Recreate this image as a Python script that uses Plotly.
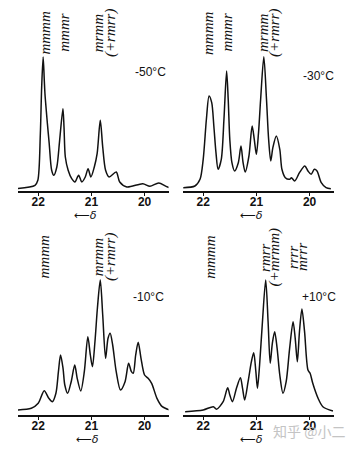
import plotly.graph_objects as go

W, H = 353, 451

# ---------------- data ----------------
tick_vals = [22, 21, 20]
tick_text = ["22", "21", "20"]

delta_m50 = [22.43, 22.06, 22.007, 21.96, 21.935, 21.907, 21.885, 21.873, 21.827, 21.793, 21.747, 21.707,
             21.65, 21.597, 21.535, 21.515, 21.49, 21.437, 21.37, 21.31, 21.24, 21.18, 21.115,
             21.062, 21.01, 20.945, 20.892, 20.833, 20.787, 20.733, 20.667, 20.533, 20.467,
             20.333, 20.033, 19.90, 19.733, 19.567, 19.30]
int_m50 = [2.3, 5.7, 10.7, 57.3, 104, 134, 110, 97.3, 67.3, 47.3, 20.7, 15.7,
           24, 50.7, 82.3, 64, 34, 20.7, 12.3, 9, 15.7, 9, 14,
           22.3, 14, 24, 37.3, 70.7, 44, 20.7, 14, 19, 9,
           4, 7.3, 4.7, 8, 4, 1.3]

delta_m30 = [22.375, 22.156, 22.06, 22.0, 21.94, 21.89, 21.84, 21.80, 21.76, 21.72, 21.66, 21.61,
             21.56, 21.53, 21.50, 21.46, 21.41, 21.34, 21.29, 21.25, 21.21, 21.14, 21.08, 21.04,
             21.0, 20.96, 20.92, 20.86, 20.81, 20.77, 20.73, 20.69, 20.625, 20.56, 20.52, 20.456,
             20.375, 20.34, 20.28, 20.19, 20.09, 20.03, 19.97, 19.91, 19.86, 19.78, 19.69, 19.6]
int_m30 = [3.3, 5, 11.7, 31.7, 71.7, 95, 88.3, 65, 38.3, 21.7, 31.7, 71.7,
           120, 91.7, 51.7, 28.3, 20, 28.3, 45, 28.3, 19, 35, 65, 51.7,
           36.7, 58.3, 91.7, 134.3, 91.7, 51.7, 30, 43.3, 55, 41.7, 21.7, 13.3,
           11.7, 13.3, 10, 18.3, 25, 20, 16.7, 21.7, 20, 8.3, 3.3, 2.3]

delta_m10 = [22.43, 22.13, 22.0, 21.887, 21.80, 21.733, 21.667, 21.62, 21.58, 21.533, 21.5, 21.447,
             21.38, 21.313, 21.267, 21.2, 21.133, 21.067, 21.02, 20.98, 20.933, 20.887, 20.833,
             20.787, 20.733, 20.687, 20.647, 20.6, 20.533, 20.453, 20.367, 20.30, 20.247, 20.213,
             20.167, 20.12, 20.067, 20.0, 19.933, 19.867, 19.767, 19.667, 19.467]
int_m10 = [5, 6.7, 11.7, 24.3, 16.7, 13.3, 21.7, 43.3, 60, 46.7, 30, 21.7,
           33.3, 50, 36.7, 24, 43.3, 78.3, 60, 48.3, 73.3, 106.7, 135,
           100, 56.7, 76.7, 81.7, 70, 43.3, 25, 33.3, 51.7, 43.3, 41.7,
           60, 72.7, 56.7, 40, 36.7, 31.7, 16.7, 8.3, 4]

delta_p10 = [22.34, 22.0, 21.81, 21.75, 21.625, 21.54, 21.5, 21.45, 21.375, 21.30, 21.26, 21.22,
             21.156, 21.094, 21.05, 21.01, 20.98, 20.94, 20.89, 20.825, 20.78, 20.74, 20.70,
             20.656, 20.61, 20.56, 20.5, 20.44, 20.375, 20.31, 20.27, 20.23, 20.19, 20.144,
             20.094, 20.03, 19.99, 19.94, 19.84, 19.75, 19.56]
int_p10 = [3.3, 5, 8.3, 5.7, 13.3, 27.3, 20, 13.3, 26.7, 37.3, 26.7, 15,
           33.3, 53.3, 62.3, 43.3, 26.7, 50, 90, 135, 93.3, 51.7, 71.7,
           83.3, 66.7, 40, 21.7, 33.3, 66.7, 93.3, 76.7, 53.3, 83.3, 106,
           83.3, 45, 41.7, 31.7, 16.7, 8.3, 4]

temps = ["-50°C", "-30°C", "-10°C", "+10°C"]

labels_m50 = [("mmmm", 21.88), ("mmmr", 21.52), ("mrmm", 20.87), ("(+rmrr)", 20.65)]
labels_m30 = [("mmmm", 21.91), ("mmmr", 21.56), ("mrmm", 20.875), ("(+rmrr)", 20.67)]
labels_m10 = [("mmmm", 21.90), ("mrmm", 20.87), ("(+rmrr)", 20.65)]
labels_p10 = [("mmmm", 21.875), ("rmrr", 20.84), ("(+mrmm)", 20.66), ("rrrr", 20.31), ("mrrr", 20.14)]

# ---------------- layout helpers ----------------
x_range = [22.38, 19.55]
PLOT_H = 186
y_range = [0, PLOT_H]

panels = [
    dict(x=delta_m50, y=int_m50, xdom=(18, 168.5), axis_y=191, temp=temps[0], labels=labels_m50,
         tx=19.88, ty=119, dx=21.12),
    dict(x=delta_m30, y=int_m30, xdom=(183, 333.5), axis_y=191, temp=temps[1], labels=labels_m30,
         tx=19.84, ty=115, dx=21.1),
    dict(x=delta_m10, y=int_m10, xdom=(18, 168.5), axis_y=415, temp=temps[2], labels=labels_m10,
         tx=19.93, ty=118, dx=21.08),
    dict(x=delta_p10, y=int_p10, xdom=(183, 333.5), axis_y=415, temp=temps[3], labels=labels_p10,
         tx=19.82, ty=118, dx=21.1),
]

fig = go.Figure()
annotations = []
layout = dict(
    width=W, height=H, margin=dict(l=0, r=0, t=0, b=0),
    paper_bgcolor="white", plot_bgcolor="white", showlegend=False,
)

for i, p in enumerate(panels, start=1):
    xa = "x" if i == 1 else f"x{i}"
    ya = "y" if i == 1 else f"y{i}"
    fig.add_trace(go.Scatter(
        x=p["x"], y=p["y"], mode="lines",
        line=dict(color="#111111", width=1.5, shape="spline", smoothing=0.8),
        xaxis=xa, yaxis=ya, hoverinfo="skip"))
    y0 = 1 - p["axis_y"] / H
    y1 = 1 - (p["axis_y"] - PLOT_H) / H
    layout["xaxis" if i == 1 else f"xaxis{i}"] = dict(
        domain=[p["xdom"][0] / W, p["xdom"][1] / W], range=x_range, anchor=ya,
        tickvals=tick_vals, ticktext=tick_text, ticks="outside", ticklen=3, tickwidth=1.2,
        tickcolor="#111", showline=True, linecolor="#111", linewidth=1.6,
        showgrid=False, zeroline=False, ticklabelstandoff=-4,
        tickfont=dict(family="Liberation Sans", size=12, color="#111", weight="bold"))
    layout["yaxis" if i == 1 else f"yaxis{i}"] = dict(
        domain=[y0, y1], range=y_range, anchor=xa, visible=False, fixedrange=True)

    # temperature
    annotations.append(dict(x=p["tx"], y=p["ty"], xref=xa, yref=ya, text=p["temp"], showarrow=False,
                            font=dict(family="Liberation Sans", size=12, color="#111"),
                            xanchor="center", yanchor="middle"))
    # delta arrow (placed below the axis, in axis-domain units)
    annotations.append(dict(x=p["dx"], y=-24 / PLOT_H, xref=xa, yref=f"{ya} domain",
                            text="⟵<i>δ</i>", showarrow=False,
                            font=dict(family="DejaVu Sans", size=11, color="#111"),
                            xanchor="center", yanchor="middle"))
    # pentad labels
    for txt, pos in p["labels"]:
        annotations.append(dict(x=pos, y=158, xref=xa, yref=ya, text=f"<i>{txt}</i>",
                                showarrow=False, textangle=-90,
                                font=dict(family="Liberation Serif", size=15, color="#111"),
                                xanchor="center", yanchor="middle"))

annotations.append(dict(x=309 / W, y=1 - 431 / H, xref="paper", yref="paper", text="知乎 @小二",
                        showarrow=False, font=dict(family="Noto Sans CJK SC", size=14, color="#c4c4c4"),
                        xanchor="center", yanchor="middle"))

layout["annotations"] = annotations
fig.update_layout(**layout)
fig.write_html("out.html")
